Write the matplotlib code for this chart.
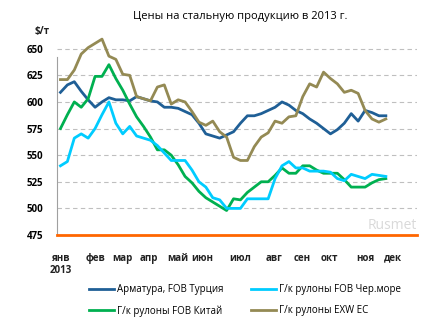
import matplotlib
matplotlib.use('Agg')
import matplotlib.pyplot as plt
import numpy as np

plt.rcParams['font.family'] = ['Open Sans', 'DejaVu Sans']

# недельные цены, $/т (48 недель 2013 г.)
armatura = [609, 616, 619, 610, 602, 595, 600, 604, 602, 602, 601, 605,
            603, 601, 600, 595, 595, 594, 591, 588, 580, 570, 568, 566,
            569, 572, 580, 587, 587, 589, 592, 595, 600, 597, 592, 589,
            584, 580, 575, 570, 574, 580, 589, 582, 592, 590, 587, 587]
chernomore = [540, 544, 566, 570, 566, 575, 588, 600, 580, 570, 577, 568,
              566, 564, 559, 552, 545, 545, 545, 536, 525, 520, 510, 508,
              500, 500, 500, 509, 509, 509, 509, 528, 540, 544, 538, 538,
              535, 535, 535, 534, 528, 526, 532, 530, 528, 532, 531, 530]
kitai = [575, 588, 600, 595, 603, 624, 624, 635, 622, 611, 598, 586,
         577, 567, 555, 555, 550, 541, 530, 524, 516, 510, 506, 502,
         498, 509, 508, 515, 520, 525, 525, 531, 538, 533, 533, 540,
         540, 536, 533, 533, 533, 527, 520, 520, 520, 524, 527, 528]
exw_ec = [621, 621, 630, 645, 651, 655, 659, 643, 640, 626, 625, 605,
          603, 601, 614, 616, 598, 602, 600, 591, 581, 578, 582, 572,
          567, 548, 545, 545, 558, 567, 571, 582, 580, 586, 587, 605,
          617, 614, 628, 622, 617, 609, 611, 608, 592, 584, 581, 584]

months = ['янв', 'фев', 'мар', 'апр', 'май', 'июн', 'июл',
          'авг', 'сен', 'окт', 'ноя', 'дек']
month_pos = [0, 5, 8.9, 12.7, 16.9, 20.5, 26, 30.8, 34.9, 38.9, 44.1, 48]
yticks = [475, 500, 525, 550, 575, 600, 625, 650]

weeks = np.arange(len(armatura))

fig = plt.figure(figsize=(4.42, 3.24), dpi=100)
ax = fig.add_axes([57 / 442, 1 - 235 / 324, 360 / 442, 198 / 324])

ax.plot(weeks, armatura, color='#1F5F96', lw=2, label='Арматура, FOB Турция')
ax.plot(weeks, kitai, color='#00B050', lw=2, label='Г/к рулоны FOB Китай')
ax.plot(weeks, chernomore, color='#00CCFF', lw=2, label='Г/к рулоны FOB Чер.море')
ax.plot(weeks, exw_ec, color='#948A54', lw=2, label='Г/к рулоны EXW EC')

ax.set_xlim(-0.5, 51.5)
ax.set_ylim(475, 661)
ax.set_yticks(yticks)
ax.set_yticklabels([str(v) for v in yticks], fontsize=7, fontweight='bold')
ax.tick_params(axis='y', length=0, pad=10)
ax.set_xticks([])
for v in yticks[1:]:
    ax.axhline(v, color='#BFBFBF', lw=0.8, ls=(0, (4, 3)), zorder=0)

for s in ['top', 'right']:
    ax.spines[s].set_visible(False)
ax.spines['left'].set_color('#A0A0A0')
ax.spines['left'].set_linewidth(0.8)
ax.spines['left'].set_bounds(475, 642)
ax.spines['bottom'].set_color('#FF6600')
ax.spines['bottom'].set_linewidth(2)

# подписи месяцев
for m, p in zip(months, month_pos):
    ax.text(p, 475 - 24, m, ha='center', va='baseline', fontsize=7, fontweight='bold',
            color='#222222')
ax.text(month_pos[0], 475 - 36, '2013', ha='center', va='baseline', fontsize=7,
        fontweight='bold', color='#222222')

ax.text(-1.5, 666, '$/т', ha='right', va='center', fontsize=7, fontweight='bold',
        color='#222222')
ax.text(51.5, 484, 'Rusmet', ha='right', va='center', fontsize=10,
        color='#D9D9D9', zorder=0)

fig.text(240 / 442, 1 - 16 / 324, 'Цены на стальную продукцию в 2013 г.',
         ha='center', va='center', fontsize=8)

fig.legend(loc='upper left', bbox_to_anchor=(89 / 442, 1 - 284 / 324), ncol=2,
           frameon=False, fontsize=7, handlelength=2.6, handletextpad=0.3,
           columnspacing=2.8, labelspacing=1.05, borderpad=0, borderaxespad=0)

fig.savefig('out.png', dpi=100)
